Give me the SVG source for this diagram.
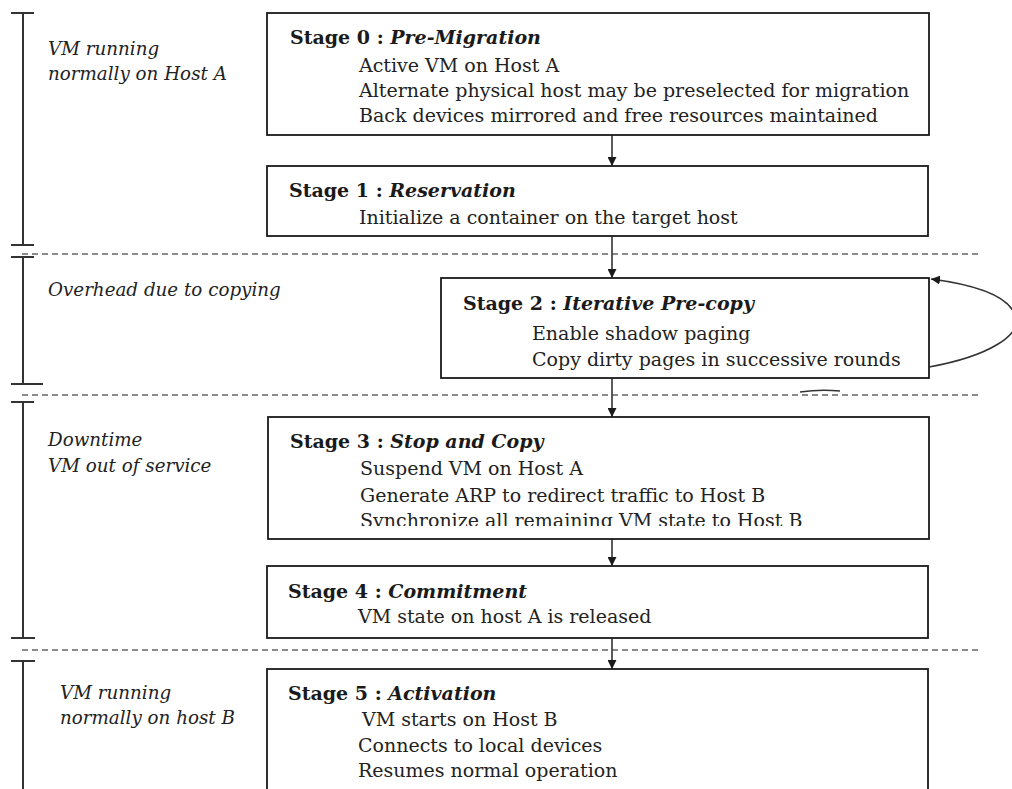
<svg xmlns="http://www.w3.org/2000/svg" width="1012" height="789" viewBox="0 0 1012 789">
  <style>
    .box { fill: #fff; stroke: #1a1a1a; stroke-width: 1.8; }
    .title { font-family: "DejaVu Serif", "Liberation Serif", serif; font-size: 19px; font-weight: bold; fill: #1a1a1a; }
    .title tspan.it { font-style: italic; }
    .body { font-family: "DejaVu Serif", "Liberation Serif", serif; font-size: 19px; fill: #222; }
    .side { font-family: "DejaVu Serif", "Liberation Serif", serif; font-size: 18.3px; font-style: italic; fill: #222; }
    .sep { stroke: #666; stroke-width: 1.5; stroke-dasharray: 6 4; fill: none; }
    .bar { stroke: #333; stroke-width: 2; fill: none; }
    .flow { stroke: #333; stroke-width: 1.6; fill: none; marker-end: url(#head); }
  </style>
  <defs>
    <marker id="head" viewBox="0 0 10 10" refX="10" refY="5" markerWidth="9" markerHeight="9" markerUnits="userSpaceOnUse" orient="auto">
      <path d="M0,0 L10,5 L0,10 Z" fill="#1a1a1a"/>
    </marker>
    <clipPath id="clip3"><rect x="268" y="417" width="660" height="109"/></clipPath>
  </defs>
  <rect width="1012" height="789" fill="#fff"/>

  <!-- phase separators -->
  <g id="separators">
    <line class="sep" x1="22" y1="254" x2="978" y2="254"/>
    <line class="sep" x1="22" y1="395" x2="978" y2="395"/>
    <line class="sep" x1="22" y1="650" x2="978" y2="650"/>
  </g>

  <!-- time brackets on the left -->
  <g id="brackets">
    <path class="bar" d="M11,13 H34 M23,13 V245 M11,245 H34"/>
    <path class="bar" d="M11,257 H34 M23,257 V384 M11,384 H43"/>
    <path class="bar" d="M11,402 H34 M23,402 V638 M11,638 H35"/>
    <path class="bar" d="M11,661 H35 M23,661 V789"/>
  </g>

  <!-- phase labels -->
  <g id="labels">
    <text class="side" x="48" y="55">VM running</text>
    <text class="side" x="48" y="80">normally on Host A</text>
    <text class="side" x="48" y="296">Overhead due to copying</text>
    <text class="side" x="48" y="446">Downtime</text>
    <text class="side" x="48" y="472">VM out of service</text>
    <text class="side" x="60" y="699">VM running</text>
    <text class="side" x="60" y="724">normally on host B</text>
  </g>

  <!-- connectors -->
  <g id="connectors">
    <line class="flow" x1="612" y1="135" x2="612" y2="166"/>
    <line class="flow" x1="612" y1="236" x2="612" y2="278"/>
    <line class="flow" x1="612" y1="378" x2="612" y2="417"/>
    <line class="flow" x1="612" y1="539" x2="612" y2="566"/>
    <line class="flow" x1="612" y1="638" x2="612" y2="669"/>
    <path class="flow" d="M929,367 C990,356 1020,335 1016,318 C1012,300 985,286 931,279"/>
    <path d="M800,392 Q820,389 840,391" stroke="#333" stroke-width="1.5" fill="none"/>
  </g>

  <g id="stage0">
    <rect class="box" x="267" y="13" width="662" height="122"/>
    <text class="title" x="290" y="44">Stage 0 : <tspan class="it">Pre-Migration</tspan></text>
    <text class="body" x="359" y="72">Active VM on Host A</text>
    <text class="body" x="359" y="97">Alternate physical host may be preselected for migration</text>
    <text class="body" x="359" y="122">Back devices mirrored and free resources maintained</text>
  </g>

  <g id="stage1">
    <rect class="box" x="267" y="166" width="661" height="70"/>
    <text class="title" x="289" y="197">Stage 1 : <tspan class="it">Reservation</tspan></text>
    <text class="body" x="359" y="224">Initialize a container on the target host</text>
  </g>

  <g id="stage2">
    <rect class="box" x="441" y="278" width="488" height="100"/>
    <text class="title" x="463" y="310">Stage 2 : <tspan class="it">Iterative Pre-copy</tspan></text>
    <text class="body" x="532" y="340">Enable shadow paging</text>
    <text class="body" x="532" y="366">Copy dirty pages in successive rounds</text>
  </g>

  <g id="stage3">
    <rect class="box" x="268" y="417" width="661" height="122"/>
    <text class="title" x="290" y="448">Stage 3 : <tspan class="it">Stop and Copy</tspan></text>
    <text class="body" x="360" y="475">Suspend VM on Host A</text>
    <text class="body" x="360" y="502">Generate ARP to redirect traffic to Host B</text>
    <text class="body" x="360" y="527" clip-path="url(#clip3)">Synchronize all remaining VM state to Host B</text>
  </g>

  <g id="stage4">
    <rect class="box" x="267" y="566" width="661" height="72"/>
    <text class="title" x="288" y="598">Stage 4 : <tspan class="it">Commitment</tspan></text>
    <text class="body" x="358" y="623">VM state on host A is released</text>
  </g>

  <g id="stage5">
    <rect class="box" x="267" y="669" width="661" height="130"/>
    <text class="title" x="288" y="700">Stage 5 : <tspan class="it">Activation</tspan></text>
    <text class="body" x="362" y="726">VM starts on Host B</text>
    <text class="body" x="358" y="752">Connects to local devices</text>
    <text class="body" x="358" y="777">Resumes normal operation</text>
  </g>
</svg>
